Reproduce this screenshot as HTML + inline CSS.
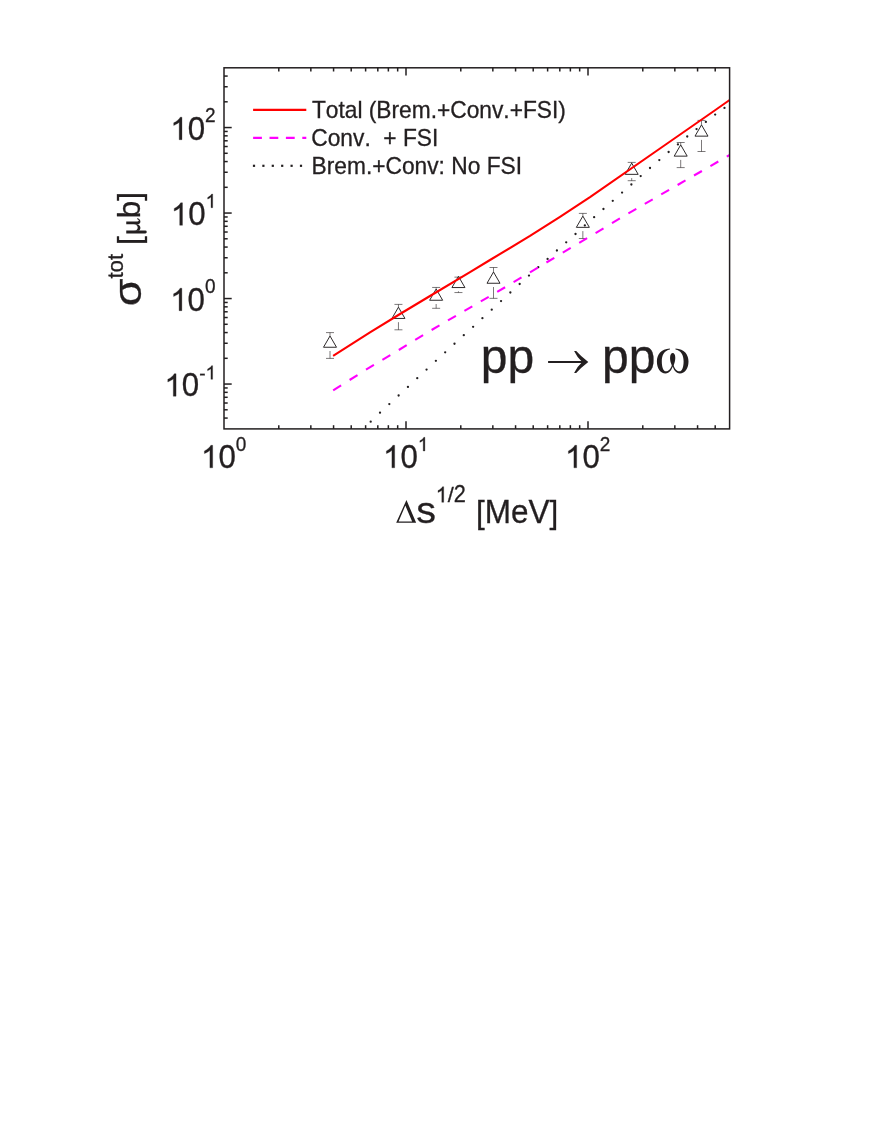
<!DOCTYPE html>
<html><head><meta charset="utf-8"><title>pp to pp omega total cross section</title>
<style>html,body{margin:0;padding:0;background:#fff;}body{width:872px;height:1128px;overflow:hidden;}svg{display:block;will-change:transform;}text{font-family:"Liberation Sans",sans-serif;fill:#231f20;font-kerning:none;font-variant-ligatures:none;stroke:#231f20;stroke-width:0.3px;}.ser{font-family:"Liberation Serif",serif;}</style>
</head><body>
<svg width="872" height="1128" viewBox="0 0 872 1128">
<rect x="0" y="0" width="872" height="1128" fill="#ffffff"/>
<g id="data" fill="none" stroke="#231f20">
<line x1="330.00" y1="332.60" x2="330.00" y2="336.00" stroke-width="0.6"/>
<line x1="330.00" y1="351.00" x2="330.00" y2="358.40" stroke-width="0.6"/>
<line x1="326.00" y1="332.60" x2="334.00" y2="332.60" stroke-width="0.6"/>
<line x1="326.00" y1="358.40" x2="334.00" y2="358.40" stroke-width="0.6"/>
<path d="M330.00 336.00 L336.50 347.25 L323.50 347.25 Z" stroke-width="0.95" stroke-linejoin="miter"/>
<line x1="398.45" y1="304.40" x2="398.45" y2="307.20" stroke-width="0.6"/>
<line x1="398.45" y1="322.20" x2="398.45" y2="329.80" stroke-width="0.6"/>
<line x1="394.45" y1="304.40" x2="402.45" y2="304.40" stroke-width="0.6"/>
<line x1="394.45" y1="329.80" x2="402.45" y2="329.80" stroke-width="0.6"/>
<path d="M398.45 307.20 L404.95 318.45 L391.95 318.45 Z" stroke-width="0.95" stroke-linejoin="miter"/>
<line x1="436.15" y1="287.45" x2="436.15" y2="289.00" stroke-width="0.6"/>
<line x1="436.15" y1="304.00" x2="436.15" y2="308.30" stroke-width="0.6"/>
<line x1="432.15" y1="287.45" x2="440.15" y2="287.45" stroke-width="0.6"/>
<line x1="432.15" y1="308.30" x2="440.15" y2="308.30" stroke-width="0.6"/>
<path d="M436.15 289.00 L442.65 300.25 L429.65 300.25 Z" stroke-width="0.95" stroke-linejoin="miter"/>
<line x1="458.45" y1="291.30" x2="458.45" y2="292.55" stroke-width="0.6"/>
<line x1="454.45" y1="277.15" x2="462.45" y2="277.15" stroke-width="0.6"/>
<line x1="454.45" y1="292.55" x2="462.45" y2="292.55" stroke-width="0.6"/>
<path d="M458.45 276.30 L464.95 287.55 L451.95 287.55 Z" stroke-width="0.95" stroke-linejoin="miter"/>
<line x1="493.50" y1="267.50" x2="493.50" y2="272.00" stroke-width="0.6"/>
<line x1="493.50" y1="287.00" x2="493.50" y2="298.35" stroke-width="0.6"/>
<line x1="489.50" y1="267.50" x2="497.50" y2="267.50" stroke-width="0.6"/>
<line x1="489.50" y1="298.35" x2="497.50" y2="298.35" stroke-width="0.6"/>
<path d="M493.50 272.00 L500.00 283.25 L487.00 283.25 Z" stroke-width="0.95" stroke-linejoin="miter"/>
<line x1="582.85" y1="213.40" x2="582.85" y2="216.10" stroke-width="0.6"/>
<line x1="582.85" y1="231.10" x2="582.85" y2="238.50" stroke-width="0.6"/>
<line x1="578.85" y1="213.40" x2="586.85" y2="213.40" stroke-width="0.6"/>
<line x1="578.85" y1="238.50" x2="586.85" y2="238.50" stroke-width="0.6"/>
<path d="M582.85 216.10 L589.35 227.35 L576.35 227.35 Z" stroke-width="0.95" stroke-linejoin="miter"/>
<line x1="631.70" y1="162.40" x2="631.70" y2="163.10" stroke-width="0.6"/>
<line x1="631.70" y1="178.10" x2="631.70" y2="180.70" stroke-width="0.6"/>
<line x1="627.70" y1="162.40" x2="635.70" y2="162.40" stroke-width="0.6"/>
<line x1="627.70" y1="180.70" x2="635.70" y2="180.70" stroke-width="0.6"/>
<path d="M631.70 163.10 L638.20 174.35 L625.20 174.35 Z" stroke-width="0.95" stroke-linejoin="miter"/>
<line x1="680.70" y1="142.50" x2="680.70" y2="144.90" stroke-width="0.6"/>
<line x1="680.70" y1="159.90" x2="680.70" y2="167.60" stroke-width="0.6"/>
<line x1="676.70" y1="142.50" x2="684.70" y2="142.50" stroke-width="0.6"/>
<line x1="676.70" y1="167.60" x2="684.70" y2="167.60" stroke-width="0.6"/>
<path d="M680.70 144.90 L687.20 156.15 L674.20 156.15 Z" stroke-width="0.95" stroke-linejoin="miter"/>
<line x1="701.50" y1="120.40" x2="701.50" y2="124.90" stroke-width="0.6"/>
<line x1="701.50" y1="139.90" x2="701.50" y2="151.50" stroke-width="0.6"/>
<line x1="697.50" y1="120.40" x2="705.50" y2="120.40" stroke-width="0.6"/>
<line x1="697.50" y1="151.50" x2="705.50" y2="151.50" stroke-width="0.6"/>
<path d="M701.50 124.90 L708.00 136.15 L695.00 136.15 Z" stroke-width="0.95" stroke-linejoin="miter"/>
</g>
<clipPath id="cp"><rect x="224.00" y="67.80" width="505.60" height="361.10"/></clipPath>
<g clip-path="url(#cp)">
<g id="dotted" fill="#231f20">
<circle cx="370.70" cy="421.65" r="1.15"/>
<circle cx="380.01" cy="412.70" r="1.15"/>
<circle cx="389.32" cy="404.10" r="1.15"/>
<circle cx="398.63" cy="395.50" r="1.15"/>
<circle cx="407.94" cy="386.90" r="1.15"/>
<circle cx="417.25" cy="378.20" r="1.15"/>
<circle cx="426.56" cy="369.60" r="1.15"/>
<circle cx="435.87" cy="360.85" r="1.15"/>
<circle cx="445.18" cy="352.30" r="1.15"/>
<circle cx="454.49" cy="343.75" r="1.15"/>
<circle cx="463.80" cy="335.20" r="1.15"/>
<circle cx="473.11" cy="326.80" r="1.15"/>
<circle cx="482.42" cy="318.20" r="1.15"/>
<circle cx="491.73" cy="309.70" r="1.15"/>
<circle cx="501.04" cy="301.10" r="1.15"/>
<circle cx="510.35" cy="292.50" r="1.15"/>
<circle cx="519.66" cy="284.00" r="1.15"/>
<circle cx="528.97" cy="275.60" r="1.15"/>
<circle cx="538.28" cy="267.20" r="1.15"/>
<circle cx="547.59" cy="258.90" r="1.15"/>
<circle cx="556.90" cy="250.50" r="1.15"/>
<circle cx="566.21" cy="242.30" r="1.15"/>
<circle cx="575.52" cy="234.00" r="1.15"/>
<circle cx="584.83" cy="225.40" r="1.15"/>
<circle cx="594.14" cy="217.20" r="1.15"/>
<circle cx="603.45" cy="209.00" r="1.15"/>
<circle cx="612.76" cy="200.85" r="1.15"/>
<circle cx="622.07" cy="192.60" r="1.15"/>
<circle cx="631.38" cy="184.50" r="1.15"/>
<circle cx="640.69" cy="176.10" r="1.15"/>
<circle cx="650.00" cy="168.00" r="1.15"/>
<circle cx="659.31" cy="160.10" r="1.15"/>
<circle cx="668.62" cy="152.00" r="1.15"/>
<circle cx="677.93" cy="144.40" r="1.15"/>
<circle cx="687.24" cy="136.50" r="1.15"/>
<circle cx="696.55" cy="129.10" r="1.15"/>
<circle cx="705.86" cy="121.90" r="1.15"/>
<circle cx="715.17" cy="114.60" r="1.15"/>
<circle cx="724.48" cy="107.90" r="1.15"/>
</g>
<g id="dashed" stroke="#ff00ff" stroke-width="2.1" fill="none">
<line x1="333.20" y1="390.34" x2="341.10" y2="385.36"/>
<line x1="349.60" y1="380.01" x2="357.50" y2="375.04"/>
<line x1="366.00" y1="369.70" x2="373.90" y2="364.96"/>
<line x1="382.40" y1="359.86" x2="390.30" y2="355.12"/>
<line x1="398.80" y1="350.02" x2="406.70" y2="345.19"/>
<line x1="415.20" y1="339.98" x2="423.10" y2="335.13"/>
<line x1="431.60" y1="329.97" x2="439.50" y2="325.39"/>
<line x1="448.00" y1="320.46" x2="455.90" y2="315.88"/>
<line x1="464.40" y1="310.95" x2="472.30" y2="306.37"/>
<line x1="480.80" y1="301.44" x2="488.70" y2="296.85"/>
<line x1="497.20" y1="291.92" x2="505.10" y2="287.25"/>
<line x1="513.60" y1="282.16" x2="521.50" y2="277.43"/>
<line x1="530.00" y1="272.34" x2="537.90" y2="267.61"/>
<line x1="546.40" y1="262.52" x2="554.30" y2="257.79"/>
<line x1="562.80" y1="252.70" x2="570.70" y2="247.97"/>
<line x1="579.20" y1="242.88" x2="587.10" y2="238.17"/>
<line x1="595.60" y1="233.13" x2="603.50" y2="228.35"/>
<line x1="612.00" y1="223.10" x2="619.90" y2="218.31"/>
<line x1="628.40" y1="213.40" x2="636.30" y2="208.84"/>
<line x1="644.80" y1="203.93" x2="652.70" y2="199.37"/>
<line x1="661.20" y1="194.46" x2="669.10" y2="189.90"/>
<line x1="677.60" y1="184.99" x2="685.50" y2="180.43"/>
<line x1="694.00" y1="175.53" x2="701.90" y2="170.97"/>
<line x1="710.40" y1="166.07" x2="718.30" y2="161.51"/>
<line x1="726.80" y1="156.61" x2="734.70" y2="152.06"/>
</g>
<polyline id="total" fill="none" stroke="#ff0000" stroke-width="2.1" stroke-linejoin="round" points="333.10,355.80 370.00,332.40 400.00,314.00 430.00,296.00 470.00,272.20 490.00,260.00 530.00,235.90 560.00,216.80 590.00,197.20 660.00,148.50 715.40,110.00 728.90,100.50 735.00,96.20"/>
</g>
<g id="axes" stroke="#231f20" stroke-width="1.5" fill="none">
<rect x="224.00" y="67.80" width="505.60" height="361.10"/>
<line x1="278.79" y1="428.90" x2="278.79" y2="425.20"/>
<line x1="278.79" y1="67.80" x2="278.79" y2="71.50"/>
<line x1="310.84" y1="428.90" x2="310.84" y2="425.20"/>
<line x1="310.84" y1="67.80" x2="310.84" y2="71.50"/>
<line x1="333.57" y1="428.90" x2="333.57" y2="425.20"/>
<line x1="333.57" y1="67.80" x2="333.57" y2="71.50"/>
<line x1="351.21" y1="428.90" x2="351.21" y2="425.20"/>
<line x1="351.21" y1="67.80" x2="351.21" y2="71.50"/>
<line x1="365.62" y1="428.90" x2="365.62" y2="425.20"/>
<line x1="365.62" y1="67.80" x2="365.62" y2="71.50"/>
<line x1="377.81" y1="428.90" x2="377.81" y2="425.20"/>
<line x1="377.81" y1="67.80" x2="377.81" y2="71.50"/>
<line x1="388.36" y1="428.90" x2="388.36" y2="425.20"/>
<line x1="388.36" y1="67.80" x2="388.36" y2="71.50"/>
<line x1="397.67" y1="428.90" x2="397.67" y2="425.20"/>
<line x1="397.67" y1="67.80" x2="397.67" y2="71.50"/>
<line x1="406.00" y1="428.90" x2="406.00" y2="421.20"/>
<line x1="406.00" y1="67.80" x2="406.00" y2="75.50"/>
<line x1="460.79" y1="428.90" x2="460.79" y2="425.20"/>
<line x1="460.79" y1="67.80" x2="460.79" y2="71.50"/>
<line x1="492.84" y1="428.90" x2="492.84" y2="425.20"/>
<line x1="492.84" y1="67.80" x2="492.84" y2="71.50"/>
<line x1="515.57" y1="428.90" x2="515.57" y2="425.20"/>
<line x1="515.57" y1="67.80" x2="515.57" y2="71.50"/>
<line x1="533.21" y1="428.90" x2="533.21" y2="425.20"/>
<line x1="533.21" y1="67.80" x2="533.21" y2="71.50"/>
<line x1="547.62" y1="428.90" x2="547.62" y2="425.20"/>
<line x1="547.62" y1="67.80" x2="547.62" y2="71.50"/>
<line x1="559.81" y1="428.90" x2="559.81" y2="425.20"/>
<line x1="559.81" y1="67.80" x2="559.81" y2="71.50"/>
<line x1="570.36" y1="428.90" x2="570.36" y2="425.20"/>
<line x1="570.36" y1="67.80" x2="570.36" y2="71.50"/>
<line x1="579.67" y1="428.90" x2="579.67" y2="425.20"/>
<line x1="579.67" y1="67.80" x2="579.67" y2="71.50"/>
<line x1="588.00" y1="428.90" x2="588.00" y2="421.20"/>
<line x1="588.00" y1="67.80" x2="588.00" y2="75.50"/>
<line x1="642.79" y1="428.90" x2="642.79" y2="425.20"/>
<line x1="642.79" y1="67.80" x2="642.79" y2="71.50"/>
<line x1="674.84" y1="428.90" x2="674.84" y2="425.20"/>
<line x1="674.84" y1="67.80" x2="674.84" y2="71.50"/>
<line x1="697.57" y1="428.90" x2="697.57" y2="425.20"/>
<line x1="697.57" y1="67.80" x2="697.57" y2="71.50"/>
<line x1="715.21" y1="428.90" x2="715.21" y2="425.20"/>
<line x1="715.21" y1="67.80" x2="715.21" y2="71.50"/>
<line x1="224.00" y1="418.07" x2="227.70" y2="418.07"/>
<line x1="224.00" y1="409.79" x2="227.70" y2="409.79"/>
<line x1="224.00" y1="403.02" x2="227.70" y2="403.02"/>
<line x1="224.00" y1="397.29" x2="227.70" y2="397.29"/>
<line x1="224.00" y1="392.34" x2="227.70" y2="392.34"/>
<line x1="224.00" y1="387.96" x2="227.70" y2="387.96"/>
<line x1="224.00" y1="384.05" x2="231.70" y2="384.05"/>
<line x1="224.00" y1="358.31" x2="227.70" y2="358.31"/>
<line x1="224.00" y1="343.26" x2="227.70" y2="343.26"/>
<line x1="224.00" y1="332.57" x2="227.70" y2="332.57"/>
<line x1="224.00" y1="324.29" x2="227.70" y2="324.29"/>
<line x1="224.00" y1="317.52" x2="227.70" y2="317.52"/>
<line x1="224.00" y1="311.79" x2="227.70" y2="311.79"/>
<line x1="224.00" y1="306.84" x2="227.70" y2="306.84"/>
<line x1="224.00" y1="302.46" x2="227.70" y2="302.46"/>
<line x1="224.00" y1="298.55" x2="231.70" y2="298.55"/>
<line x1="224.00" y1="272.81" x2="227.70" y2="272.81"/>
<line x1="224.00" y1="257.76" x2="227.70" y2="257.76"/>
<line x1="224.00" y1="247.07" x2="227.70" y2="247.07"/>
<line x1="224.00" y1="238.79" x2="227.70" y2="238.79"/>
<line x1="224.00" y1="232.02" x2="227.70" y2="232.02"/>
<line x1="224.00" y1="226.29" x2="227.70" y2="226.29"/>
<line x1="224.00" y1="221.34" x2="227.70" y2="221.34"/>
<line x1="224.00" y1="216.96" x2="227.70" y2="216.96"/>
<line x1="224.00" y1="213.05" x2="231.70" y2="213.05"/>
<line x1="224.00" y1="187.31" x2="227.70" y2="187.31"/>
<line x1="224.00" y1="172.26" x2="227.70" y2="172.26"/>
<line x1="224.00" y1="161.57" x2="227.70" y2="161.57"/>
<line x1="224.00" y1="153.29" x2="227.70" y2="153.29"/>
<line x1="224.00" y1="146.52" x2="227.70" y2="146.52"/>
<line x1="224.00" y1="140.79" x2="227.70" y2="140.79"/>
<line x1="224.00" y1="135.84" x2="227.70" y2="135.84"/>
<line x1="224.00" y1="131.46" x2="227.70" y2="131.46"/>
<line x1="224.00" y1="127.55" x2="231.70" y2="127.55"/>
<line x1="224.00" y1="101.81" x2="227.70" y2="101.81"/>
<line x1="224.00" y1="86.76" x2="227.70" y2="86.76"/>
<line x1="224.00" y1="76.07" x2="227.70" y2="76.07"/>
</g>
<path d="M763 0H583V1147Q518 1085 412.5 1023T223 930V1104Q374 1175 487 1276T647 1472H763Z" fill="#231f20" stroke="#231f20" stroke-width="19.6" transform="translate(201.00,467.80) scale(0.01528,-0.01528)"/>
<text transform="translate(218.40,467.80) scale(1.0000,1.0670)" font-size="31.30">0</text>
<text transform="translate(235.81,451.00) scale(1.0000,1.0670)" font-size="19.00">0</text>
<path d="M763 0H583V1147Q518 1085 412.5 1023T223 930V1104Q374 1175 487 1276T647 1472H763Z" fill="#231f20" stroke="#231f20" stroke-width="19.6" transform="translate(383.00,467.80) scale(0.01528,-0.01528)"/>
<text transform="translate(400.40,467.80) scale(1.0000,1.0670)" font-size="31.30">0</text>
<path d="M763 0H583V1147Q518 1085 412.5 1023T223 930V1104Q374 1175 487 1276T647 1472H763Z" fill="#231f20" stroke="#231f20" stroke-width="32.3" transform="translate(417.81,451.00) scale(0.00928,-0.00928)"/>
<path d="M763 0H583V1147Q518 1085 412.5 1023T223 930V1104Q374 1175 487 1276T647 1472H763Z" fill="#231f20" stroke="#231f20" stroke-width="19.6" transform="translate(565.00,467.80) scale(0.01528,-0.01528)"/>
<text transform="translate(582.40,467.80) scale(1.0000,1.0670)" font-size="31.30">0</text>
<text transform="translate(599.81,451.00) scale(1.0000,1.0670)" font-size="19.00">2</text>
<path d="M763 0H583V1147Q518 1085 412.5 1023T223 930V1104Q374 1175 487 1276T647 1472H763Z" fill="#231f20" stroke="#231f20" stroke-width="19.6" transform="translate(170.30,139.70) scale(0.01528,-0.01528)"/>
<text transform="translate(187.70,139.70) scale(1.0000,1.0670)" font-size="31.30">0</text>
<text transform="translate(205.11,122.10) scale(1.0000,1.0670)" font-size="19.00">2</text>
<path d="M763 0H583V1147Q518 1085 412.5 1023T223 930V1104Q374 1175 487 1276T647 1472H763Z" fill="#231f20" stroke="#231f20" stroke-width="19.6" transform="translate(170.80,225.30) scale(0.01528,-0.01528)"/>
<text transform="translate(188.20,225.30) scale(1.0000,1.0670)" font-size="31.30">0</text>
<path d="M763 0H583V1147Q518 1085 412.5 1023T223 930V1104Q374 1175 487 1276T647 1472H763Z" fill="#231f20" stroke="#231f20" stroke-width="32.3" transform="translate(205.61,207.70) scale(0.00928,-0.00928)"/>
<path d="M763 0H583V1147Q518 1085 412.5 1023T223 930V1104Q374 1175 487 1276T647 1472H763Z" fill="#231f20" stroke="#231f20" stroke-width="19.6" transform="translate(170.20,310.70) scale(0.01528,-0.01528)"/>
<text transform="translate(187.60,310.70) scale(1.0000,1.0670)" font-size="31.30">0</text>
<text transform="translate(205.01,293.10) scale(1.0000,1.0670)" font-size="19.00">0</text>
<path d="M763 0H583V1147Q518 1085 412.5 1023T223 930V1104Q374 1175 487 1276T647 1472H763Z" fill="#231f20" stroke="#231f20" stroke-width="19.6" transform="translate(164.40,396.20) scale(0.01528,-0.01528)"/>
<text transform="translate(181.80,396.20) scale(1.0000,1.0670)" font-size="31.30">0</text>
<text transform="translate(199.21,380.20) scale(1.0000,1.0000)" font-size="19.00">-</text>
<path d="M763 0H583V1147Q518 1085 412.5 1023T223 930V1104Q374 1175 487 1276T647 1472H763Z" fill="#231f20" stroke="#231f20" stroke-width="32.3" transform="translate(205.53,379.30) scale(0.00928,-0.00928)"/>
<line x1="253.1" y1="109.85" x2="306.3" y2="109.85" stroke="#ff0000" stroke-width="2.2"/>
<line x1="253.1" y1="137.85" x2="306.3" y2="137.85" stroke="#ff00ff" stroke-width="2.2" stroke-dasharray="8.8 7.6"/>
<rect x="252.90" y="164.70" width="2.2" height="2.2" fill="#231f20"/>
<rect x="262.30" y="164.70" width="2.2" height="2.2" fill="#231f20"/>
<rect x="271.70" y="164.70" width="2.2" height="2.2" fill="#231f20"/>
<rect x="281.10" y="164.70" width="2.2" height="2.2" fill="#231f20"/>
<rect x="290.50" y="164.70" width="2.2" height="2.2" fill="#231f20"/>
<rect x="299.90" y="164.70" width="2.2" height="2.2" fill="#231f20"/>
<text transform="translate(311.90,117.75) scale(1.0000,1.0200)" font-size="22.75">Total (Brem.+Conv.+FSI)</text>
<text transform="translate(311.30,146.00) scale(1.0000,1.0200)" font-size="22.75" xml:space="preserve">Conv.  + FSI</text>
<text transform="translate(311.60,173.90) scale(1.0000,1.0200)" font-size="22.75">Brem.+Conv: No FSI</text>
<text transform="translate(480.70,372.80) scale(1.0000,1.0000)" font-size="48.00">pp</text>
<text transform="translate(602.00,372.80) scale(1.0000,1.0000)" font-size="48.00">pp</text>
<path id="arrow" fill="#231f20" stroke="none" d="M574.1 351.0 L576.2 351.0 Q580.8 356.2 588.3 362.0 Q580.8 367.8 576.2 372.9 L574.1 372.9 Q577.3 366.5 581.3 363.05 L548.1 363.05 L548.1 360.95 L581.3 360.95 Q577.3 357.5 574.1 351.0 Z"/>
<g id="omega" fill="#231f20" stroke="none"><path d="M669.90 348.50 C661.00 348.90 656.90 354.60 656.90 361.60 C656.90 368.60 660.40 373.50 665.50 373.50 C669.40 373.50 671.90 370.00 672.90 365.60 L672.40 363.50 C671.20 368.30 669.00 371.30 666.00 371.30 C663.00 371.30 661.80 366.60 661.80 361.20 C661.80 355.00 664.40 350.60 669.90 349.50 Z "/><path d="M675.50 348.50 C684.40 348.90 688.50 354.60 688.50 361.60 C688.50 368.60 685.00 373.50 679.90 373.50 C676.00 373.50 673.50 370.00 672.50 365.60 L673.00 363.50 C674.20 368.30 676.40 371.30 679.40 371.30 C682.40 371.30 683.60 366.60 683.60 361.20 C683.60 355.00 681.00 350.60 675.50 349.50 Z "/><path d="M672.70 353.1 C675.90 353.1 675.80 360.0 674.30 363.6 C673.70 365.4 673.10 366.6 672.70 367.6 C672.30 366.6 671.70 365.4 671.10 363.6 C669.60 360.0 669.50 353.1 672.70 353.1 Z"/></g>
<path id="Delta" fill="#231f20" fill-rule="evenodd" stroke="none" d="M396.2 522.85 L406.45 500.0 L416.15 522.85 Z M398.55 521.5 L412.15 521.5 L405.35 505.6 Z"/>
<text transform="translate(416.20,523.20) scale(1.0000,0.9300)" font-size="39.50" stroke-width="0.8">s</text>
<path d="M763 0H583V1147Q518 1085 412.5 1023T223 930V1104Q374 1175 487 1276T647 1472H763Z" fill="#231f20" stroke="#231f20" stroke-width="28.3" transform="translate(435.63,502.30) scale(0.01060,-0.01060)"/>
<text transform="translate(447.70,502.30) scale(1.0000,0.9700)" font-size="21.70">/</text>
<text transform="translate(453.73,502.30) scale(1.0000,1.0600)" font-size="21.70">2</text>
<text transform="translate(476.10,522.70) scale(1.0000,1.0000)" font-size="31.50" stroke-width="0.1">[</text>
<text transform="translate(484.86,522.70) scale(1.0000,1.0350)" font-size="31.50">MeV</text>
<text transform="translate(549.62,522.70) scale(1.0000,1.0000)" font-size="31.50" stroke-width="0.1">]</text>
<g transform="translate(140.7,306) rotate(-90)">
<text transform="translate(-0.30,0.00) scale(1.1400,1.0000)" font-size="39.30" stroke-width="0.5">σ</text>
<text transform="translate(27.40,-17.60) scale(1.0000,1.0300)" font-size="22.30">tot</text>
<text transform="translate(61.00,-0.70) scale(1.0000,1.0000)" font-size="31.50" stroke-width="0.1">[</text>
<g transform="translate(74.0,-0.7)" fill="#231f20" stroke="none">
<path d="M-1.4 -13.75 H1.4 V5.3 A1.45 1.45 0 0 1 -1.5 5.3 Z"/>
<path d="M1.3 -6 C1.4 -3.5 3 -2.3 4.6 -2.3 C6.3 -2.3 7.75 -3.8 7.75 -6.5 L7.75 -2.5 C7 -0.6 5.8 0.4 4.3 0.4 C2.9 0.4 1.9 -0.2 1.3 -1 Z"/>
<path d="M7.75 -13.75 H10.55 V-2.8 C10.55 -1.3 11.2 -1.0 12 -1.4 C12.5 -1.7 12.9 -2.3 13.1 -3.0 L13.7 -2.8 C13.4 -1.2 12.3 0.4 10.6 0.4 C8.9 0.4 7.75 -0.8 7.75 -2.5 Z"/>
</g>
<text transform="translate(87.80,-0.70) scale(1.0000,0.9750)" font-size="31.50">b</text>
<text transform="translate(105.31,-0.70) scale(1.0000,1.0000)" font-size="31.50" stroke-width="0.1">]</text>
</g>
</svg></body></html>
